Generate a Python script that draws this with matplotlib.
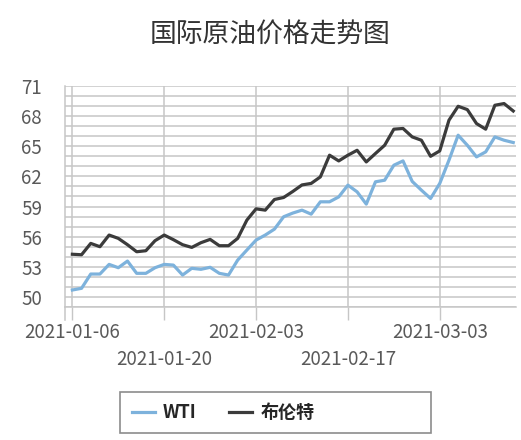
import matplotlib
matplotlib.use("Agg")
import matplotlib.pyplot as plt
from matplotlib.patches import Rectangle
import pandas as pd

plt.rcParams['font.family'] = ['Noto Sans CJK SC', 'DejaVu Sans']

# trading days (weekdays) starting 2021-01-06
dates = pd.bdate_range("2021-01-06", periods=49).strftime("%Y-%m-%d").tolist()

wti = [50.69, 50.86, 52.28, 52.28, 53.24, 52.91, 53.57, 52.35, 52.35, 52.91,
       53.24, 53.17, 52.18, 52.85, 52.75, 52.95, 52.35, 52.18, 53.67, 54.67,
       55.66, 56.16, 56.75, 57.98, 58.35, 58.64, 58.24, 59.47, 59.47, 59.96,
       61.13, 60.46, 59.24, 61.46, 61.62, 63.11, 63.54, 61.50, 60.63, 59.80,
       61.30, 63.61, 66.10, 65.10, 63.94, 64.44, 65.93, 65.60, 65.37]

brent = [54.25, 54.20, 55.33, 55.00, 56.16, 55.83, 55.20, 54.50, 54.60, 55.60,
         56.16, 55.70, 55.20, 54.93, 55.40, 55.73, 55.10, 55.10, 55.83, 57.65,
         58.77, 58.64, 59.70, 59.90, 60.50, 61.15, 61.30, 61.95, 64.11, 63.54,
         64.11, 64.60, 63.44, 64.28, 65.10, 66.70, 66.77, 65.93, 65.60, 64.00,
         64.54, 67.59, 68.98, 68.65, 67.26, 66.70, 69.08, 69.25, 68.51]

y_labels = [50, 53, 56, 59, 62, 65, 68, 71]

fig = plt.figure(figsize=(5.21, 4.4), dpi=100)
ax = fig.add_axes([0.1248, 0.3023, 0.8656, 0.5023])

x = list(range(len(dates)))
ax.plot(x, wti, color='#7db2dc', lw=2.3, label='WTI', solid_joinstyle='round')
ax.plot(x, brent, color='#3b3b3b', lw=2.3, label='布伦特', solid_joinstyle='round')

grid_c = '#c6c6c6'
ax.set_ylim(49, 71)
ax.set_xlim(-0.8, 48.3)
ax.set_yticks(range(49, 72))
ax.set_yticklabels([str(v) if v in y_labels else '' for v in range(49, 72)])
ax.tick_params(axis='y', length=0, pad=16.5, labelsize=13.5, labelcolor='#595959')

major = [i for i in x if i % 20 == 0]
minor = [i for i in x if i % 20 == 10]
ax.set_xticks(major)
ax.set_xticklabels([dates[i] for i in major])
ax.set_xticks(minor, minor=True)
ax.set_xticklabels([dates[i] for i in minor], minor=True)
ax.tick_params(axis='x', which='both', length=9, color=grid_c, width=1,
               labelsize=13.5, labelcolor='#595959')
ax.tick_params(axis='x', which='major', pad=2)
ax.tick_params(axis='x', which='minor', pad=21)

ax.grid(axis='y', which='major', color=grid_c, lw=1.1)
ax.grid(axis='x', which='both', color=grid_c, lw=1.1)
ax.set_axisbelow(True)
for s in ['top', 'right']:
    ax.spines[s].set_visible(False)
for s in ['left', 'bottom']:
    ax.spines[s].set_color(grid_c)
    ax.spines[s].set_linewidth(1.1)
ax.plot([0, 0], [0, -0.059], transform=ax.transAxes, color=grid_c, lw=1.1,
        clip_on=False)

fig.text(0.518, 0.92, '国际原油价格走势图', ha='center', va='center',
         fontsize=19.3, color='#333333')

# Excel-style legend: wide box, entries packed to the left
fig.patches.append(Rectangle((0.2303, 0.0159), 0.597, 0.0932,
                             transform=fig.transFigure, fill=False,
                             edgecolor='#8c8c8c', lw=1.2))
leg = fig.legend(loc='center left', bbox_to_anchor=(0.2534, 0.0625), ncol=2,
                 frameon=False, borderpad=0, borderaxespad=0,
                 handlelength=1.27, handletextpad=0.45, columnspacing=1.8,
                 prop={'weight': 'bold', 'size': 13})
for t in leg.get_texts():
    t.set_color('#262626')

fig.savefig('out.png', dpi=100)
